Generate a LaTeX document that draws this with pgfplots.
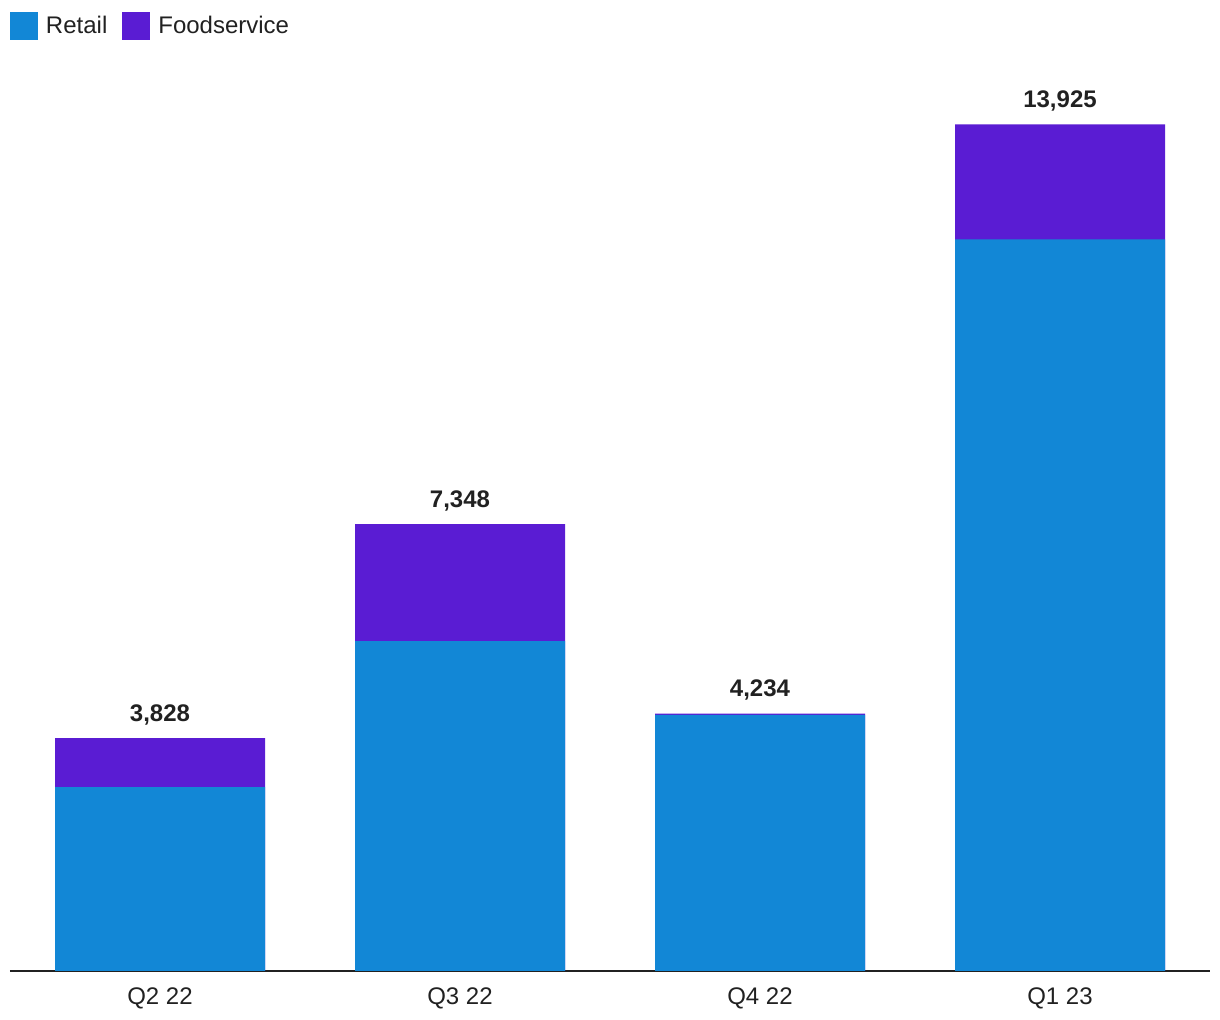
\documentclass[border=0pt]{standalone}
\usepackage{pgfplots}
\pgfplotsset{compat=1.18}
\usepackage{pgfplotstable}
\usepackage{fontspec}
\setmainfont{Liberation Sans}
\definecolor{retail}{RGB}{18,135,214}
\definecolor{food}{RGB}{90,28,211}
\definecolor{txt}{RGB}{33,33,33}
\pgfplotstableread{
x retail food total
0 3025 803 3828
1 5425 1923 7348
2 4214 20 4234
3 12034 1891 13925
}\datatable
\begin{document}
\begin{tikzpicture}
\begin{axis}[
  at={(0,0)}, anchor=south west,
  scale only axis,
  width=600pt, height=456pt,
  xmin=-0.5, xmax=3.5,
  ymin=0, ymax=15000,
  ybar=0pt,
  bar shift=0pt,
  bar width=105pt,
  hide y axis,
  axis x line=bottom,
  x axis line style={-, line width=1pt, color=txt},
  xtick=data,
  xticklabels={Q2 22, Q3 22, Q4 22, Q1 23},
  major tick length=0pt,
  xticklabel style={font=\fontsize{12}{14}\selectfont, text=txt, yshift=-5pt},
  /pgf/number format/assume math mode=true,
  /pgf/number format/1000 sep={,},
  legend columns=2,
  legend style={draw=none, fill=none, inner sep=0pt, outer sep=0pt,
    at={(0,1)}, anchor=north west, yshift=23.5pt,
    font=\fontsize{12}{14}\selectfont, text=txt,
    nodes={inner sep=0pt},
    /tikz/every odd column/.append style={column sep=4pt},
    /tikz/every even column/.append style={column sep=7.5pt}},
  legend image code/.code={\fill[#1,draw=none] (0pt,-7pt) rectangle (14pt,7pt);},
]
\addlegendimage{fill=retail, draw=none}
\addlegendentry{Retail}
\addlegendimage{fill=food, draw=none}
\addlegendentry{Foodservice}
% total (retail + foodservice) drawn in foodservice colour, retail drawn over it
\addplot[fill=food, draw=none, forget plot,
  nodes near coords={\pgfmathprintnumber{\pgfplotspointmeta}},
  every node near coord/.append style={anchor=base, yshift=8.5pt, font=\fontsize{12}{14}\selectfont\bfseries, text=txt, inner sep=0pt}
  ] table[x=x, y=total] {\datatable};
\addplot[fill=retail, draw=none, forget plot] table[x=x, y=retail] {\datatable};
\end{axis}
\pgfresetboundingbox
\useasboundingbox (-5pt,-24.5pt) rectangle (605pt,485.5pt);
\end{tikzpicture}
\end{document}
